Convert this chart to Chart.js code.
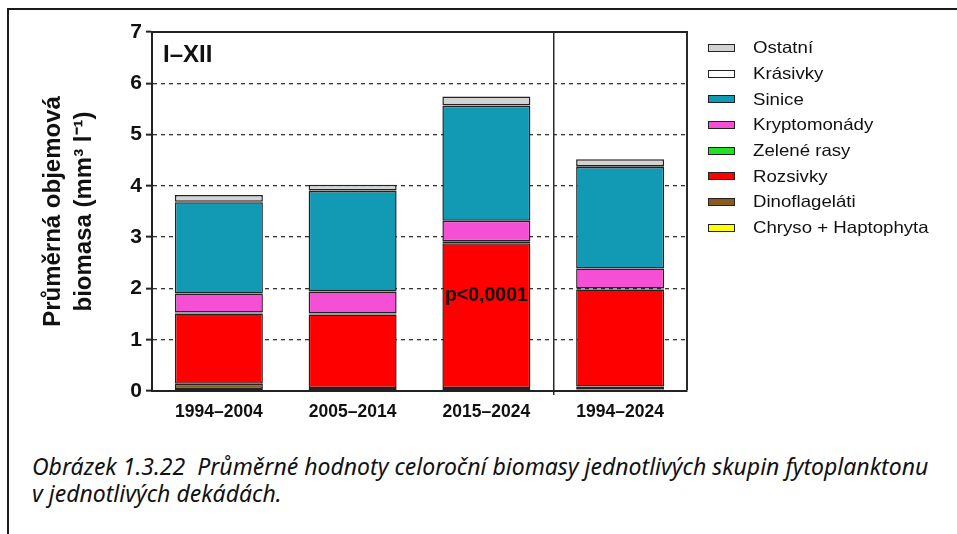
<!DOCTYPE html>
<html>
<head>
<meta charset="utf-8">
<script src="https://cdn.jsdelivr.net/npm/chart.js@4"></script>
<style>
    body { margin: 0; background: #fff; width: 957px; height: 534px; overflow: hidden; position: relative; }
    #frame { position: absolute; left: 7px; top: 8px; right: -5px; bottom: -5px; border-left: 2px solid #1a1a1a; border-top: 2px solid #1a1a1a; }
    #chartBox { position: absolute; left: 10px; top: 10px; width: 947px; height: 420px; }
    #legend { position: absolute; left: 708px; top: 35px; margin: 0; padding: 0; list-style: none; }
    #legend li { height: 25.7px; display: flex; align-items: center; white-space: nowrap; }
    #legend .box { display: inline-block; width: 27px; height: 8px; box-sizing: border-box; margin-right: 18px; }
    #legend .txt { display: inline-block; font-family: "Liberation Sans", Arial, sans-serif; font-size: 16.5px; color: #111; transform: scaleX(1.13); transform-origin: left center; }
    #caption { position: absolute; left: 32px; top: 453px; font-family: "Noto Sans", sans-serif; font-style: italic; font-size: 23px; line-height: 27px; color: #111; white-space: nowrap; }
</style>
</head>
<body>
<div id="frame"></div>
<div id="chartBox"><canvas id="biomasa"></canvas></div>
<ul id="legend"></ul>
<div id="caption">Obrázek 1.3.22&nbsp; Průměrné hodnoty celoroční biomasy jednotlivých skupin fytoplanktonu<br>v jednotlivých dekádách.</div>
<script>
// Data (mm3 l-1), stacked from the bottom up
const categories = ["1994–2004", "2005–2014", "2015–2024", "1994–2024"];
const chrysoHapto = [0.04, 0.02, 0.02, 0.03];
const dinoflagelati = [0.10, 0.04, 0.04, 0.06];
const rozsivky = [1.37, 1.43, 2.82, 1.89];
const zeleneRasy = [0.02, 0.02, 0.04, 0.02];
const kryptomonady = [0.37, 0.43, 0.40, 0.39];
const sinice = [1.78, 1.96, 2.24, 1.98];
const krasivky = [0.01, 0.01, 0.01, 0.01];
const ostatni = [0.13, 0.11, 0.17, 0.14];

const yMin = 0;
const yMax = 7;
const yStep = 1;

const periodLabel = "I–XII";
const pLabel = "p<0,0001";
const pLabelAt = { index: 2, value: 1.86 };

const edge = "#222";
const FONT = "'Liberation Sans', Arial, sans-serif";

function series(label, data, color) {
    return {
        label: label,
        data: data,
        backgroundColor: color,
        borderColor: edge,
        borderWidth: 1.5,
        borderSkipped: false
    };
}

// Text labels inside the plot
const plotText = {
    id: "plotText",
    afterDatasetsDraw(chart) {
        const ctx = chart.ctx;
        const area = chart.chartArea;
        ctx.save();
        ctx.fillStyle = "#111";
        ctx.textBaseline = "middle";
        ctx.font = "bold 24px " + FONT;
        ctx.textAlign = "left";
        ctx.fillText(periodLabel, area.left + 11, area.top + 23);
        ctx.font = "bold 19.5px " + FONT;
        ctx.textAlign = "center";
        ctx.fillText(pLabel,
            chart.scales.x.getPixelForValue(pLabelAt.index),
            chart.scales.y.getPixelForValue(pLabelAt.value));
        ctx.restore();
    }
};

// Legend as a list next to the canvas, built from the chart's own legend items
const htmlLegend = {
    id: "htmlLegend",
    afterUpdate(chart) {
        const ul = document.getElementById("legend");
        ul.innerHTML = "";
        const items = Chart.defaults.plugins.legend.labels.generateLabels(chart).reverse();
        items.forEach((item) => {
            const li = document.createElement("li");
            const box = document.createElement("span");
            box.className = "box";
            box.style.background = item.fillStyle;
            box.style.border = "1.5px solid " + item.strokeStyle;
            const txt = document.createElement("span");
            txt.className = "txt";
            txt.textContent = item.text;
            li.appendChild(box);
            li.appendChild(txt);
            ul.appendChild(li);
        });
    }
};

new Chart(document.getElementById("biomasa"), {
    type: "bar",
    data: {
        labels: categories,
        datasets: [
            series("Chryso + Haptophyta", chrysoHapto, "#ffff00"),
            series("Dinoflageláti", dinoflagelati, "#8b5a1e"),
            series("Rozsivky", rozsivky, "#ff0000"),
            series("Zelené rasy", zeleneRasy, "#22e022"),
            series("Kryptomonády", kryptomonady, "#f54fd6"),
            series("Sinice", sinice, "#129ab4"),
            series("Krásivky", krasivky, "#ffffff"),
            series("Ostatní", ostatni, "#d3d3d3")
        ]
    },
    options: {
        responsive: true,
        maintainAspectRatio: false,
        animation: false,
        barPercentage: 0.658,
        categoryPercentage: 1,
        layout: { padding: { left: 10, top: 21, right: 270, bottom: 0 } },
        scales: {
            x: {
                stacked: true,
                grid: {
                    offset: true,
                    // index 3 = divider before the whole-period bar, no index = right frame
                    color: (c) => (c.index === 3 || c.index === undefined) ? "#2a2a2a" : "rgba(0,0,0,0)",
                    lineWidth: (c) => c.index === undefined ? 2 : 1.5,
                    tickColor: (c) => c.index === 3 ? "#2a2a2a" : "rgba(0,0,0,0)",
                    tickLength: 4
                },
                border: { color: edge, width: 2 },
                ticks: { color: "#111", font: { family: FONT, size: 17.5, weight: "bold" }, padding: 7 }
            },
            x2: {
                type: "linear",
                position: "top",
                grid: { display: false },
                ticks: { display: false },
                border: { color: edge, width: 2 },
                afterFit: (s) => { s.height = 1; }
            },
            y: {
                stacked: true,
                min: yMin,
                max: yMax,
                ticks: { stepSize: yStep, color: "#111", font: { family: FONT, size: 21, weight: "bold" }, padding: 4 },
                grid: {
                    color: "#333",
                    lineWidth: 1.3,
                    tickColor: edge,
                    tickWidth: 2,
                    tickLength: 6,
                    tickBorderDash: []
                },
                border: { color: edge, width: 2, dash: [4, 4] },
                title: {
                    display: true,
                    text: ["Průměrná objemová", "biomasa (mm³ l⁻¹)"],
                    color: "#111",
                    font: { family: FONT, size: 24, weight: "bold", lineHeight: 1.29 },
                    padding: { top: 17.5, bottom: 0 }
                },
                afterFit: (s) => { s.width = 132; }
            }
        },
        plugins: {
            legend: { display: false },
            tooltip: { enabled: false }
        }
    },
    plugins: [plotText, htmlLegend]
});
</script>
</body>
</html>
